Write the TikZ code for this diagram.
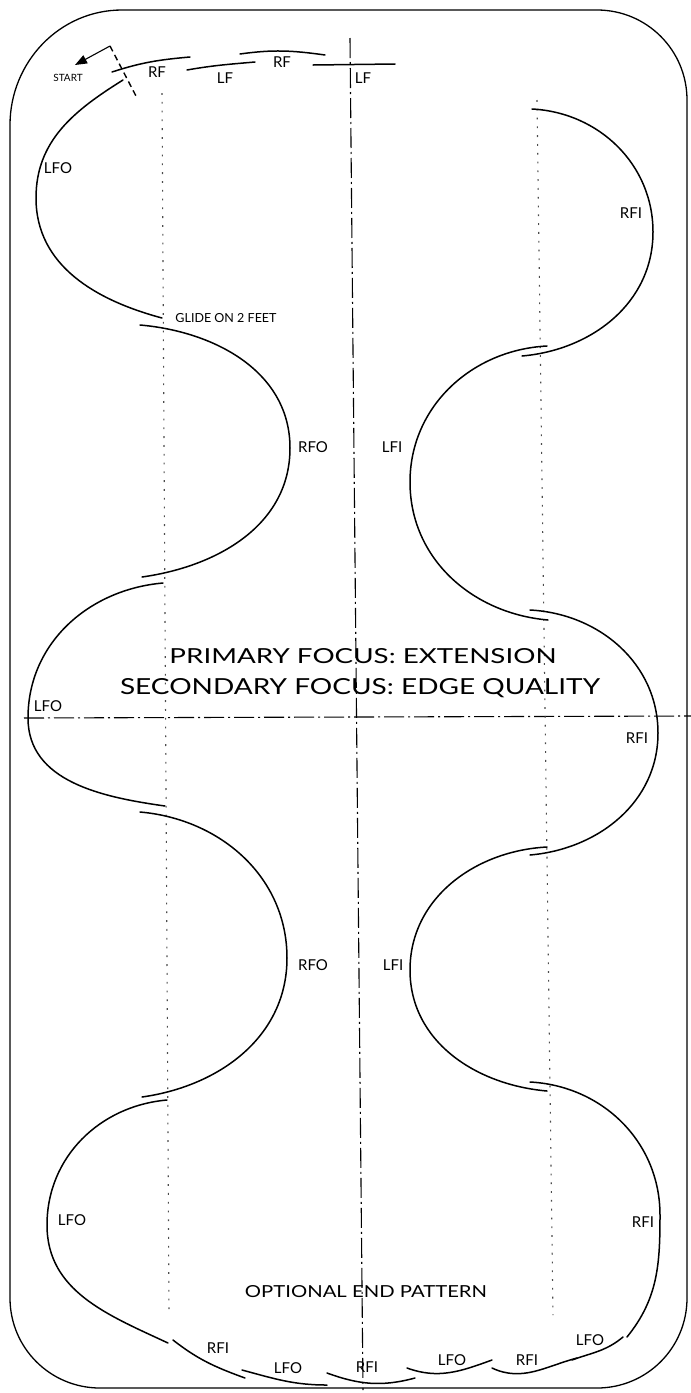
\documentclass[tikz,border=0pt]{standalone}
\usepackage{graphicx}
\usepackage{fontspec}
\setmainfont{Lato}
\usetikzlibrary{arrows.meta}
\begin{document}
\begin{tikzpicture}[x=1pt,y=-1pt,
  edge/.style={line width=1.5pt, line cap=round},
  frame/.style={line width=1.3pt},
  dotline/.style={line width=1.1pt, dash pattern=on 1.8pt off 7pt, black!70},
  axis/.style={line width=1.1pt, dash pattern=on 20pt off 4pt on 2pt off 4pt},
  lbl/.style={inner sep=0pt, font=\fontsize{15}{15}\selectfont},
  tiny/.style={inner sep=0pt, font=\fontsize{10}{10}\selectfont},
  small/.style={inner sep=0pt, font=\fontsize{12.5}{12.5}\selectfont},
  big/.style={inner sep=0pt, anchor=base},
]
\useasboundingbox (0,0) rectangle (691,1393);
% frame
\coordinate (f1) at (10,125);  \coordinate (f2) at (122,10);
\coordinate (f3) at (597,10);  \coordinate (f4) at (687,100);
\coordinate (f5) at (687,1298);\coordinate (f6) at (597,1388);
\coordinate (f7) at (100,1388);\coordinate (f8) at (10,1298);
\draw[frame] (f1) to[out=90,in=180] (f2) -- (f3) to[out=0,in=90] (f4) -- (f5)
  to[out=-90,in=0] (f6) -- (f7) to[out=180,in=-90] (f8) -- cycle;

% reference lines
\coordinate (cT) at (350,38);  \coordinate (cB) at (363,1390);
\coordinate (lT) at (162,93);  \coordinate (lB) at (169,1310);
\coordinate (rT) at (537,100); \coordinate (rB) at (553,1315);
\coordinate (hL) at (24,718);  \coordinate (hR) at (691,716);
\draw[axis] (cT) -- (cB);
\draw[axis] (hL) -- (hR);
\draw[dotline] (lT) -- (lB);
\draw[dotline] (rT) -- (rB);

% start
\coordinate (aS) at (110,46); \coordinate (aE) at (75,65); \coordinate (dE) at (136,96);
\draw[line width=1.1pt, -{Triangle[length=12pt,width=9pt]}] (aS) -- (aE);
\draw[line width=1.4pt, dash pattern=on 6pt off 4pt] (aS) -- (dE);
\node[tiny] (tStart) at (68,78) {START};

% top steps
\coordinate (s1a) at (112,72);  \coordinate (s1b) at (190,57);
\coordinate (s2a) at (187,70);  \coordinate (s2b) at (255,62);
\coordinate (s3a) at (240,54);  \coordinate (s3b) at (325,55);
\coordinate (s4a) at (313,65);  \coordinate (s4b) at (395,64);
\draw[edge] (s1a) to[out=18,in=185] (s1b);
\draw[edge] (s2a) to[out=10,in=185] (s2b);
\draw[edge] (s3a) to[out=8,in=172] (s3b);
\draw[edge] (s4a) -- (s4b);
\node[lbl] (tRF1) at (157,72) {RF};
\node[lbl] (tLF1) at (225,78) {LF};
\node[lbl] (tRF2) at (282,62) {RF};
\node[lbl] (tLF2) at (363,78) {LF};

% left lobes
\coordinate (L1s) at (123,80);  \coordinate (L1m) at (36,198);  \coordinate (L1e) at (162,318);
\coordinate (R1s) at (140,325); \coordinate (R1m) at (290,448); \coordinate (R1e) at (142,577);
\coordinate (L2s) at (163,583); \coordinate (L2m) at (28,718);  \coordinate (L2e) at (165,806);
\coordinate (R2s) at (140,812); \coordinate (R2m) at (287,958); \coordinate (R2e) at (142,1097);
\coordinate (L3s) at (167,1100);\coordinate (L3m) at (47,1225); \coordinate (L3e) at (168,1343);
\draw[edge] (L1s) to[out=212,in=90] (L1m) to[out=-90,in=165] (L1e);
\draw[edge] (R1s) to[out=-5,in=90] (R1m) to[out=-90,in=8] (R1e);
\draw[edge] (L2s) to[out=185,in=90] (L2m) to[out=-90,in=172] (L2e);
\draw[edge] (R2s) to[out=-5,in=90] (R2m) to[out=-90,in=8] (R2e);
\draw[edge] (L3s) to[out=185,in=90] (L3m) to[out=-90,in=155] (L3e);
\node[lbl] (tL1) at (58,168) {LFO};
\node[small] (tGlide) at (226,318) {GLIDE ON 2 FEET};
\node[lbl] (tR1) at (313,447) {RFO};
\node[lbl] (tL2) at (48,706) {LFO};
\node[lbl] (tR2) at (313,965) {RFO};
\node[lbl] (tL3) at (72,1220) {LFO};

% right lobes
\coordinate (P1s) at (532,109); \coordinate (P1m) at (653,232); \coordinate (P1e) at (522,356);
\coordinate (Q1s) at (547,346); \coordinate (Q1m) at (410,482); \coordinate (Q1e) at (548,620);
\coordinate (P2s) at (530,610); \coordinate (P2m) at (658,733); \coordinate (P2e) at (530,855);
\coordinate (Q2s) at (547,847); \coordinate (Q2m) at (410,970); \coordinate (Q2e) at (547,1091);
\coordinate (P3s) at (530,1082);\coordinate (P3m) at (660,1215);\coordinate (P3e) at (627,1337);
\draw[edge] (P1s) to[out=-3,in=90] (P1m) to[out=-90,in=5] (P1e);
\draw[edge] (Q1s) to[out=183,in=90] (Q1m) to[out=-90,in=175] (Q1e);
\draw[edge] (P2s) to[out=-3,in=90] (P2m) to[out=-90,in=5] (P2e);
\draw[edge] (Q2s) to[out=183,in=90] (Q2m) to[out=-90,in=175] (Q2e);
\draw[edge] (P3s) to[out=-3,in=90] (P3m) to[out=-90,in=51] (P3e);
\node[lbl] (tP1) at (631,213) {RFI};
\node[lbl] (tQ1) at (392,447) {LFI};
\node[lbl] (tP2) at (637,738) {RFI};
\node[lbl] (tQ2) at (393,965) {LFI};
\node[lbl] (tP3) at (643,1222) {RFI};

% optional end pattern
\coordinate (b1a) at (173,1340); \coordinate (b1b) at (245,1378);
\coordinate (b2a) at (242,1370); \coordinate (b2b) at (327,1385);
\coordinate (b3a) at (327,1373); \coordinate (b3b) at (415,1378);
\coordinate (b4a) at (407,1368); \coordinate (b4b) at (492,1360);
\coordinate (b5a) at (492,1368); \coordinate (b5b) at (577,1358);
\coordinate (b6a) at (572,1360); \coordinate (b6b) at (623,1337);
\draw[edge] (b1a) to[out=-38,in=160] (b1b);
\draw[edge] (b2a) to[out=-15,in=180] (b2b);
\draw[edge] (b3a) to[out=-20,in=195] (b3b);
\draw[edge] (b4a) to[out=-20,in=200] (b4b);
\draw[edge] (b5a) to[out=-25,in=195] (b5b);
\draw[edge] (b6a) to[out=20,in=220] (b6b);
\node[lbl] (tb1) at (218,1348) {RFI};
\node[lbl] (tb2) at (288,1368) {LFO};
\node[lbl] (tb3) at (367,1367) {RFI};
\node[lbl] (tb4) at (452,1360) {LFO};
\node[lbl] (tb5) at (527,1360) {RFI};
\node[lbl] (tb6) at (590,1340) {LFO};

% titles
\node[big] (tPrim) at (363,663) {\resizebox{387pt}{15pt}{PRIMARY FOCUS: EXTENSION}};
\node[big] (tSec) at (360,694) {\resizebox{480pt}{16pt}{SECONDARY FOCUS: EDGE QUALITY}};
\node[big] (tOpt) at (366,1297) {\resizebox{242pt}{12pt}{OPTIONAL END PATTERN}};
\end{tikzpicture}
\end{document}
